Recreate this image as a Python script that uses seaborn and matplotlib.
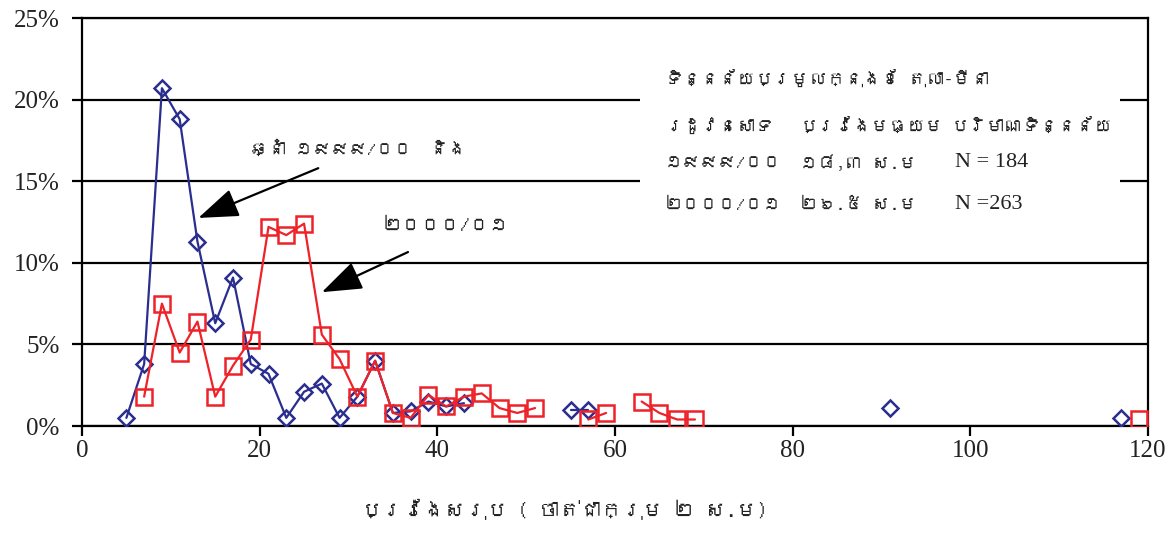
import matplotlib
matplotlib.use("Agg")
import matplotlib.pyplot as plt
from matplotlib import font_manager
from matplotlib.ft2font import FT2Font
from matplotlib.patches import Rectangle
from matplotlib.ticker import PercentFormatter
import numpy as np
import pandas as pd
import seaborn as sns

# length groups (2 cm classes, mid point) and share of catch (%)
bins_1999 = [5, 7, 9, 11, 13, 15, 17, 19, 21, 23, 25, 27, 29, 31, 33, 35, 37, 39, 41, 43,
             55, 57, 91, 117]
pct_1999 = [0.5, 3.8, 20.7, 18.8, 11.3, 6.3, 9.1, 3.8, 3.2, 0.5, 2.1, 2.6, 0.5, 1.8, 4.0,
            0.8, 0.9, 1.5, 1.2, 1.4, 1.0, 1.0, 1.1, 0.5]

bins_2000 = [7, 9, 11, 13, 15, 17, 19, 21, 23, 25, 27, 29, 31, 33, 35, 37, 39, 41, 43, 45,
             47, 49, 51, 57, 59, 63, 65, 67, 69, 119]
pct_2000 = [1.8, 7.5, 4.5, 6.4, 1.8, 3.7, 5.3, 12.2, 11.7, 12.4, 5.6, 4.1, 1.8, 4.0, 0.8,
            0.5, 1.9, 1.2, 1.8, 2.0, 1.1, 0.8, 1.1, 0.4, 0.8, 1.5, 0.8, 0.4, 0.4, 0.4]

info_rows = [
    ["ទិន្នន័យប្រមូលក្នុងខែ តុលា-មីនា", "", ""],
    ["រដូវនេសាទ", "ប្រវែងមធ្យម", "បរិមាណទិន្នន័យ"],
    ["១៩៩៩/០០", "១៨,៣ ស.ម", "N = 184"],
    ["២០០០/០១", "២៦.៥ ស.ម", "N =263"],
]
label_1999 = "ឆ្នាំ ១៩៩៩/០០  និង"
label_2000 = "២០០០/០១"
x_title = "ប្រវែងសរុប ( ចាត់ជាក្រុម ២ ស.ម)"

BLUE = "#2a2e8e"
RED = "#ee2229"


def find_khmer_font():
    for f in font_manager.fontManager.ttflist:
        try:
            cmap = FT2Font(f.fname).get_charmap()
        except Exception:
            continue
        if 0x1780 in cmap and 0x17E0 in cmap:
            return f.name
    return None


def to_frame(bins, pct):
    df = pd.DataFrame({"length": bins, "pct": pct})
    # a gap in the length classes breaks the line (empty cells)
    df["segment"] = (df["length"].diff() > 2).cumsum()
    return df


sns.set_style("white")
khmer = find_khmer_font()
km_family = [khmer, "DejaVu Sans"] if khmer else ["DejaVu Sans"]
serif = ["Liberation Serif", "DejaVu Serif"]

fig = plt.figure(figsize=(11.76, 5.35), dpi=100)
ax = fig.add_axes([0.0697, 0.2037, 0.9065, 0.7626])

df99 = to_frame(bins_1999, pct_1999)
df00 = to_frame(bins_2000, pct_2000)

sns.lineplot(data=df99, x="length", y="pct", units="segment", estimator=None, sort=False,
             color=BLUE, lw=1.6, marker="D", markersize=8, markerfacecolor="none",
             markeredgecolor=BLUE, markeredgewidth=1.8, ax=ax, zorder=3)
sns.lineplot(data=df00, x="length", y="pct", units="segment", estimator=None, sort=False,
             color=RED, lw=1.6, marker="s", markersize=11, markerfacecolor="none",
             markeredgecolor=RED, markeredgewidth=1.8, ax=ax, zorder=4)

ax.set_xlim(0, 120)
ax.set_ylim(0, 25)
ax.set_xticks(np.arange(0, 121, 20))
ax.set_yticks(np.arange(0, 26, 5))
ax.yaxis.set_major_formatter(PercentFormatter(decimals=0))
ax.set_xlabel("")
ax.set_ylabel("")

ax.set_axisbelow(True)
ax.yaxis.grid(True, color="black", lw=1.6)
ax.xaxis.grid(False)
for s in ax.spines.values():
    s.set_color("black")
    s.set_linewidth(1.6)
ax.tick_params(axis="both", direction="out", length=7, width=1.6, color="black",
               labelsize=18, labelcolor="#222222")
ax.tick_params(axis="y", pad=9, left=True)
ax.tick_params(axis="x", pad=3, bottom=True)
for lab in ax.get_xticklabels() + ax.get_yticklabels():
    lab.set_family(serif)

# white panel behind the legend text
ax.add_patch(Rectangle((0.5235, 0.456), 0.4502, 0.466, transform=ax.transAxes,
                       facecolor="white", edgecolor="none", zorder=1.5))

row_y = [0.853, 0.738, 0.645, 0.542]
col_x = [0.547, 0.6735, 0.815]
for r, row in enumerate(info_rows):
    for c, txt in enumerate(row):
        if not txt:
            continue
        is_n = txt.startswith("N")
        ax.text(0.819 if is_n else col_x[c], row_y[r], txt, transform=ax.transAxes,
                ha="left", va="center", fontsize=16 if is_n else 13,
                family=serif if is_n else km_family, color="#222222", zorder=5)

arrow = dict(arrowstyle="-|>,head_length=1.25,head_width=0.45", mutation_scale=20,
             color="black", lw=1.6, shrinkA=0, shrinkB=0)
ax.annotate("", xy=(13.1, 12.75), xytext=(26.6, 15.8), arrowprops=arrow, zorder=5)
ax.annotate("", xy=(27.0, 8.2), xytext=(36.7, 10.66), arrowprops=arrow, zorder=5)
ax.text(0.1576, 0.681, label_1999, transform=ax.transAxes, ha="left", va="center",
        fontsize=13, family=km_family, color="#222222", zorder=5)
ax.text(0.2824, 0.4926, label_2000, transform=ax.transAxes, ha="left", va="center",
        fontsize=14, family=km_family, color="#222222", zorder=5)

fig.text(0.48, 0.047, x_title, ha="center", va="center", fontsize=15,
         family=km_family, color="#222222")

fig.savefig("out.png", dpi=100)
